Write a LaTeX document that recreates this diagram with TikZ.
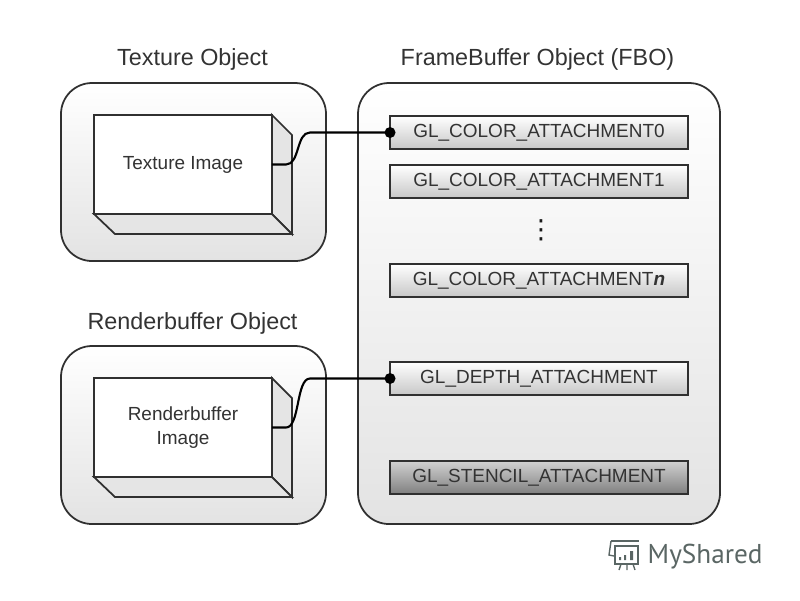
\documentclass[tikz,border=0pt]{standalone}
\usepackage{fontspec}
\setmainfont{Liberation Sans}
\newfontfamily\logofont{PT Sans}
\newfontfamily\dotsfont{DejaVu Sans}
\usepackage{tikz}
\usetikzlibrary{positioning}

\definecolor{edgegray}{HTML}{303030}
\definecolor{logogray}{HTML}{5A6664}

\tikzset{
    panel/.style={draw=edgegray,line width=1pt,rounded corners=0.62cm,top color=white,bottom color=black!11},
    face/.style={draw=edgegray,line width=1pt,fill=black!10},
    imagebox/.style={draw=edgegray,line width=1pt,fill=white,inner sep=0pt,outer sep=0pt,minimum width=3.56cm,minimum height=1.98cm,align=center,font=\fontsize{10.8}{13.2}\selectfont,text=black!80},
    attach/.style={draw=edgegray,line width=1pt,top color=white,bottom color=black!22,inner sep=0pt,outer sep=0pt,minimum width=5.96cm,minimum height=0.66cm,font=\fontsize{10.8}{12}\selectfont,text=black!80},
    title/.style={font=\fontsize{13.3}{15}\selectfont,text=black!80},
    wire/.style={line width=1.2pt,black}
}

\begin{document}
\begin{tikzpicture}[x=0.02cm,y=-0.02cm]

\useasboundingbox (0,0) rectangle (800,600);

\node [title] (texturetitle) at (192.5,59) {Texture Object};
\node [title] (rendertitle) at (192.5,323) {Renderbuffer Object};
\node [title] (fbotitle) at (537.5,59) {FrameBuffer Object (FBO)};

% the three panels
\draw [panel] (61,83) rectangle (326,261);
\draw [panel] (61,346) rectangle (326,524);
\draw [panel] (358,83) rectangle (720,524);

% blocks
\foreach \y in {0,263} {
    \draw [face] (272,115+\y) -- (292,135+\y) -- (292,234+\y) -- (272,214+\y) -- cycle;
    \draw [face] (94,214+\y) -- (272,214+\y) -- (292,234+\y) -- (115,234+\y) -- cycle;
}
\node [imagebox] (teximage) at (183,164.5) {Texture Image};
\node [imagebox] (renderimage) at (183,427.5) {Renderbuffer\\Image};

% attachments
\node [attach] (color0) at (539,132.5) {GL\_COLOR\_ATTACHMENT0};
\node [attach] (color1) at (539,181.5) {GL\_COLOR\_ATTACHMENT1};
\node [attach] (colorn) at (539,280.5) {GL\_COLOR\_ATTACHMENT{\bfseries\itshape n}};
\node [attach] (depth) at (539,378.5) {GL\_DEPTH\_ATTACHMENT};
\node [attach,top color=black!18,bottom color=black!50] (stencil) at (539,477.5) {GL\_STENCIL\_ATTACHMENT};

\node [font=\dotsfont\fontsize{15}{15}\selectfont,text=black!90] (dots) at (541,230) {⋮};

\draw [wire] (teximage.east) -- ++(14,0) .. controls +(14,0) and +(-14,0) .. ++(24,-32) -- (color0.west);
\draw [wire] (renderimage.east) -- ++(14,0) .. controls +(14,0) and +(-14,0) .. ++(24,-49) -- (depth.west);

\foreach \i in {color0,depth}
    \fill (\i.west) circle (5.5);

% logo
\node [font=\logofont\fontsize{15.5}{16}\selectfont,text=logogray,anchor=west] (myshared) at (641.5,557) {MyShared};
\draw [logogray,line width=0.8pt] (611,541) -- (639,541) (615,546) rectangle (638,564);
\draw [logogray,line width=0.8pt] (611,541) -- (609,555) -- (614,556);
\draw [logogray,line width=0.8pt] (621,564) -- (619,570) (627,564) -- (627,570) (633,564) -- (635,570);
\fill [logogray] (619,557) rectangle (621,560) (624,555) rectangle (626,560) (630,551) rectangle (633,560);

\end{tikzpicture}
\end{document}
